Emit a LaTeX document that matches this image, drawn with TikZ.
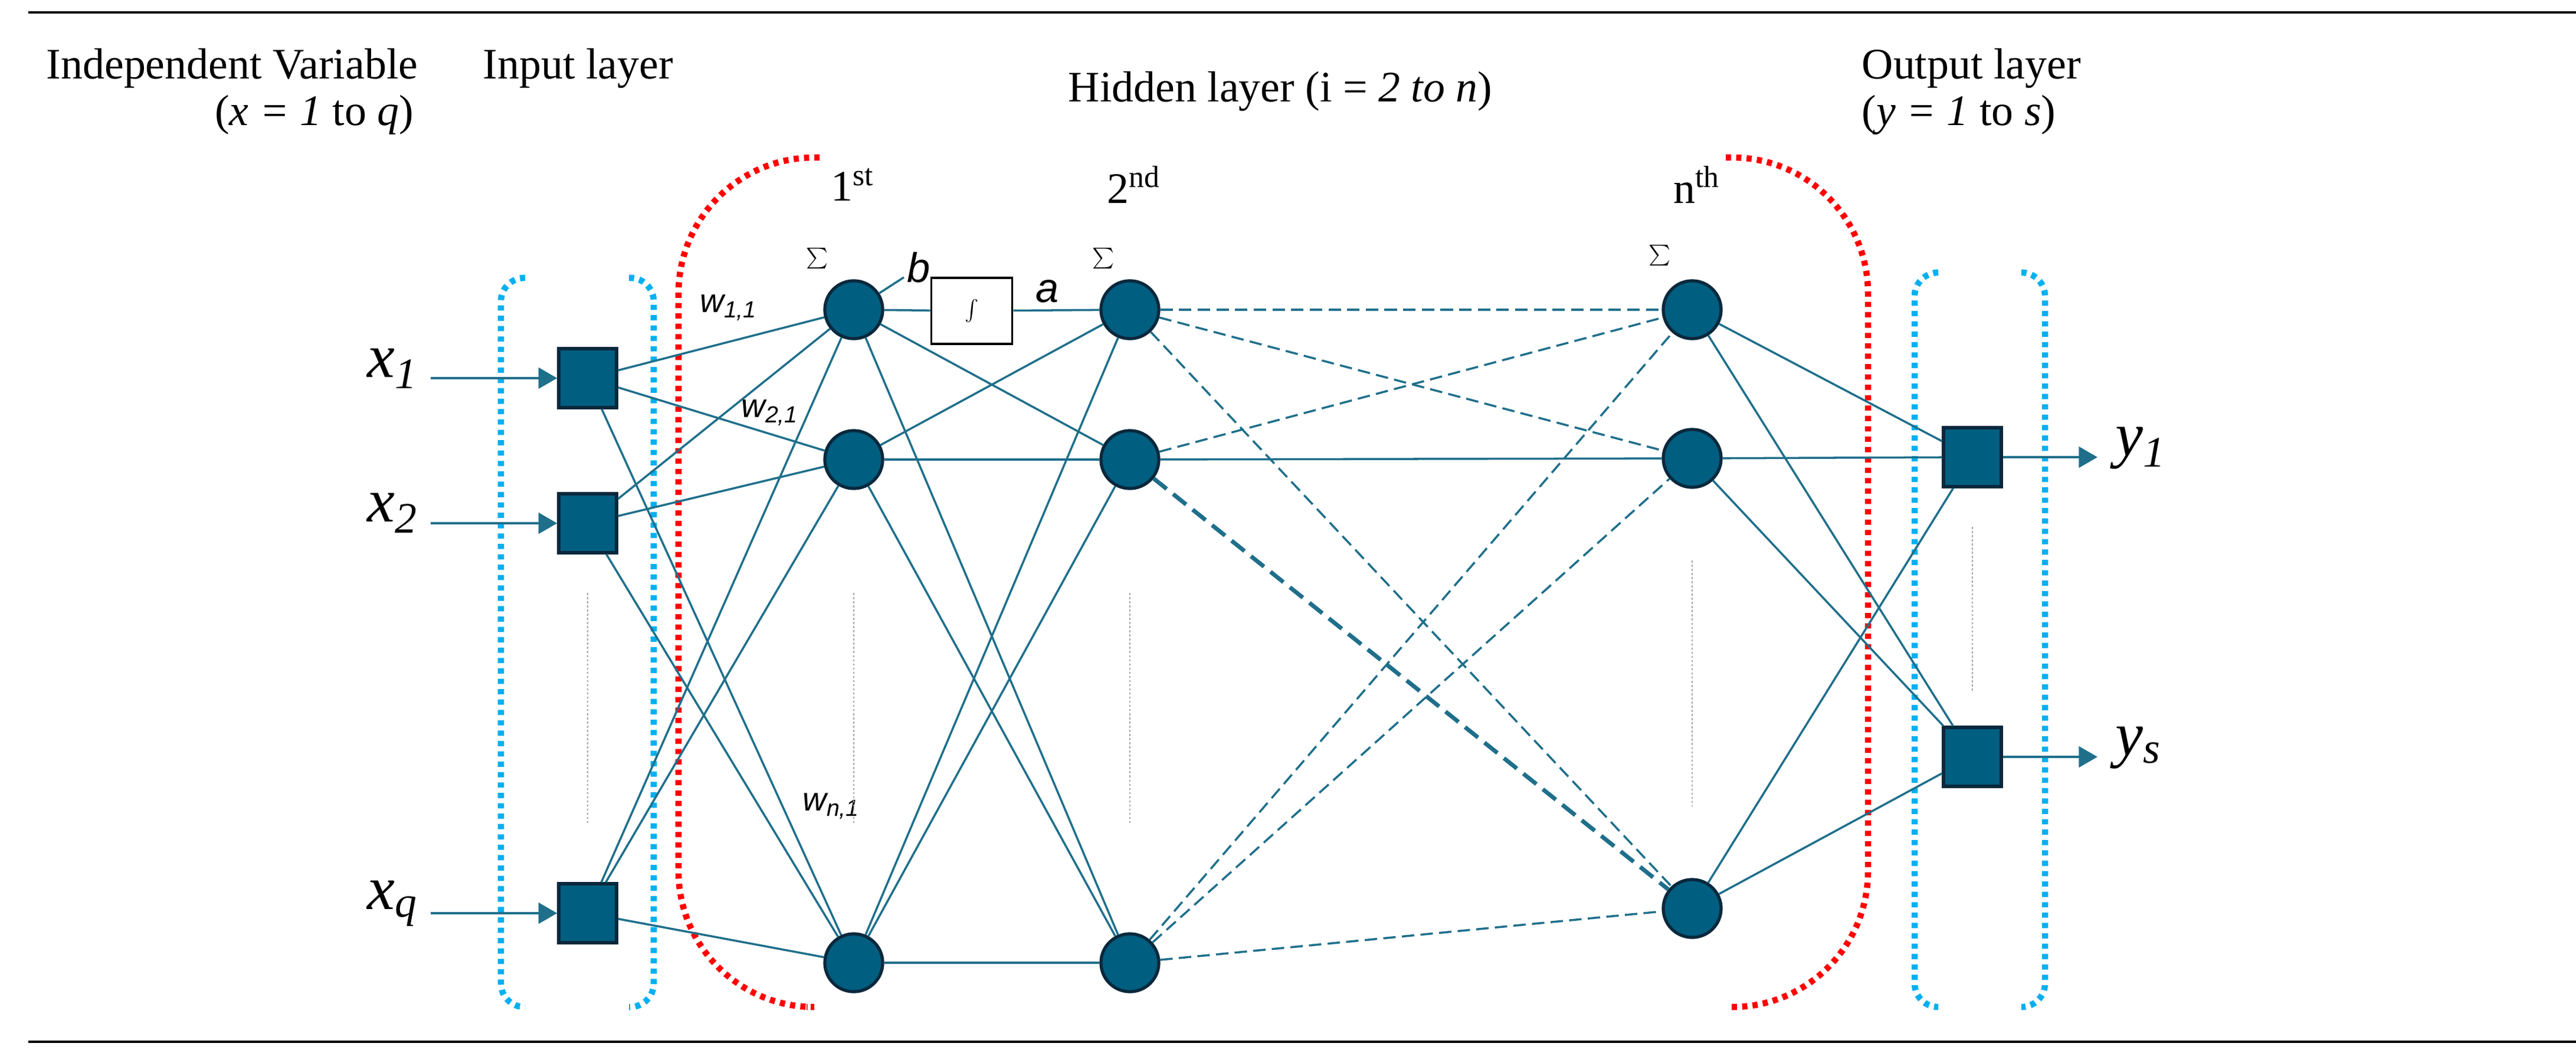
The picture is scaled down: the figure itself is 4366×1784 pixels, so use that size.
\documentclass[tikz,border=0pt]{standalone}
\usepackage{fontspec}
\setmainfont{Liberation Serif}
\newfontfamily\sansf{Liberation Sans}
\usetikzlibrary{arrows.meta}
\definecolor{nodefill}{RGB}{0,94,128}
\definecolor{nodeedge}{RGB}{10,40,60}
\definecolor{edgec}{RGB}{31,111,139}
\definecolor{cyanb}{RGB}{0,176,240}
\definecolor{redb}{RGB}{255,0,0}
\begin{document}
\begin{tikzpicture}[x=0.01cm,y=-0.01cm,
 neuron/.style={circle,fill=nodefill,draw=nodeedge,line width=1.5pt,minimum size=0.98cm,inner sep=0},
 sq/.style={rectangle,fill=nodefill,draw=nodeedge,line width=1.5pt,minimum width=0.98cm,minimum height=1cm,inner sep=0},
 con/.style={draw=edgec,line width=1pt},
 dcon/.style={con,dash pattern=on 6pt off 3pt},
 arr/.style={con,line width=1.3pt,-{Triangle[width=10pt,length=9pt]}},
 br/.style={line width=3pt,dash pattern=on 2.5pt off 2.5pt},
 head/.style={font=\fontsize{21}{25}\selectfont,inner sep=0},
 var/.style={font=\fontsize{30}{32}\selectfont\itshape,inner sep=0},
 sig/.style={font=\fontsize{30}{30}\selectfont,inner sep=0},
 ord/.style={font=\fontsize{21}{25}\selectfont,inner sep=0},
 wl/.style={font=\fontsize{16}{18}\selectfont\sansf\itshape,inner sep=0},
 vdot/.style={draw=gray!70,line width=0.6pt,dash pattern=on 1pt off 1pt}]
\useasboundingbox (0,0) rectangle (4366,1784);
\draw[line width=1.2pt] (48,21) coordinate(t1) -- (4366,21) coordinate(t2);
\draw[line width=1.2pt] (48,1766) coordinate(b1) -- (4366,1766) coordinate(b2);
% headings
\node[head,anchor=base east] (hiv) at (709,133) {Independent Variable};
\node[head,anchor=base east] (hx) at (702,212) {(\textit{x = 1} to \textit{q})};
\node[head,anchor=base west] (hin) at (818,133) {Input layer};
\node[head,anchor=base west] (hhid) at (1810,172) {Hidden layer (i = \textit{2 to n})};
\node[head,anchor=base west] (hout) at (3155,133) {Output layer};
\node[head,anchor=base west] (hy) at (3155,212) {(\textit{y = 1} to \textit{s})};
% brackets
\draw[br,cyanb,rounded corners=0.4cm] (890,471) -- (849,471) -- (849,1707) -- (890,1707);
\draw[br,cyanb,rounded corners=0.4cm] (1066,471) -- (1108,471) -- (1108,1707) -- (1066,1707);
\draw[br,cyanb,rounded corners=0.4cm] (3285,462) -- (3245,462) -- (3245,1707) -- (3285,1707);
\draw[br,cyanb,rounded corners=0.4cm] (3426,462) -- (3466,462) -- (3466,1707) -- (3426,1707);
\draw[br,redb,rounded corners=2.3cm] (1389,267) -- (1150,267) -- (1150,1707) -- (1367,1707);
\draw[br,redb,rounded corners=2.3cm] (2925,267) -- (3166,267) -- (3166,1707) -- (2930,1707);
% nodes
\node[sq] (i1) at (996,641) {};
\node[sq] (i2) at (996,887) {};
\node[sq] (iq) at (996,1548) {};
\node[neuron] (a1) at (1447,525) {};
\node[neuron] (a2) at (1447,779) {};
\node[neuron] (a3) at (1447,1632) {};
\node[neuron] (b1n) at (1915,525) {};
\node[neuron] (b2n) at (1915,779) {};
\node[neuron] (b3n) at (1915,1632) {};
\node[neuron] (n1) at (2868,525) {};
\node[neuron] (n2) at (2868,777) {};
\node[neuron] (n3) at (2868,1540) {};
\node[sq] (o1) at (3343,775) {};
\node[sq] (os) at (3343,1283) {};
\node[draw,line width=1pt,minimum width=1.37cm,minimum height=1.12cm,fill=white,inner sep=0,font=\fontsize{18}{18}\selectfont] (act) at (1647,527) {$\int$};
% inputs
\node[var] (x1) at (665,625) {x\textsubscript{1}};
\node[var] (x2) at (665,870) {x\textsubscript{2}};
\node[var] (xq) at (665,1532) {x\textsubscript{q}};
\coordinate (x1s) at (730,641); \coordinate (x2s) at (730,887); \coordinate (xqs) at (730,1548);
\draw[arr] (x1s) -- (i1.west);
\draw[arr] (x2s) -- (i2.west);
\draw[arr] (xqs) -- (iq.west);
% outputs
\coordinate (y1e) at (3555,775); \coordinate (yse) at (3555,1283);
\draw[arr] (o1.east) -- (y1e);
\draw[arr] (os.east) -- (yse);
\node[var,anchor=west] (y1) at (3585,760) {y\textsubscript{1}};
\node[var,anchor=west] (ys) at (3585,1268) {y\textsubscript{s}};
% layer labels
\node[sig] (s1) at (1385,440) {$\sum$};
\node[sig] (s2) at (1870,440) {$\sum$};
\node[sig] (sn) at (2813,435) {$\sum$};
\node[ord] (o1st) at (1445,313) {1\textsuperscript{st}};
\node[ord] (o2nd) at (1922,313) {2\textsuperscript{nd}};
\node[ord] (onth) at (2876,313) {n\textsuperscript{th}};
% input -> layer 1
\foreach \s in {i1,i2,iq} \foreach \t in {a1,a2,a3} \draw[con] (\s) -- (\t);
% layer1 -> layer2
\draw[con] (a1) -- (act) -- (b1n);
\foreach \s/\t in {a1/b2n,a1/b3n,a2/b1n,a2/b2n,a2/b3n,a3/b1n,a3/b2n,a3/b3n} \draw[con] (\s) -- (\t);
% bias
\coordinate (bend) at (1532,470);
\draw[con] (a1) -- (bend);
\node[wl,font=\fontsize{20}{20}\selectfont\sansf\itshape] (bl) at (1557,453) {b};
\node[wl,font=\fontsize{20}{20}\selectfont\sansf\itshape] (al) at (1775,494) {a};
% layer2 -> layer n
\foreach \s/\t in {b1n/n1,b1n/n2,b1n/n3,b2n/n1,b3n/n1,b3n/n2,b3n/n3} \draw[dcon] (\s) -- (\t);
\draw[con] (b2n) -- (n2);
\draw[con,line width=2pt,dash pattern=on 8pt off 4pt] (b2n) -- (n3);
% layer n -> output
\foreach \s in {n1,n2,n3} \foreach \t in {o1,os} \draw[con] (\s) -- (\t);
% weights
\node[wl] (w11) at (1235,522) {w\textsubscript{1,1}};
\node[wl] (w21) at (1305,700) {w\textsubscript{2,1}};
\node[wl] (wn1) at (1409,1367) {w\textsubscript{n,1}};
% vertical dotted
\draw[vdot] (996,1005) coordinate(d1a) -- (996,1395) coordinate(d1b);
\draw[vdot] (1447,1005) coordinate(d2a) -- (1447,1395) coordinate(d2b);
\draw[vdot] (1915,1005) coordinate(d3a) -- (1915,1395) coordinate(d3b);
\draw[vdot] (2868,950) coordinate(d4a) -- (2868,1367) coordinate(d4b);
\draw[vdot] (3343,893) coordinate(d5a) -- (3343,1172) coordinate(d5b);
\end{tikzpicture}
\end{document}
